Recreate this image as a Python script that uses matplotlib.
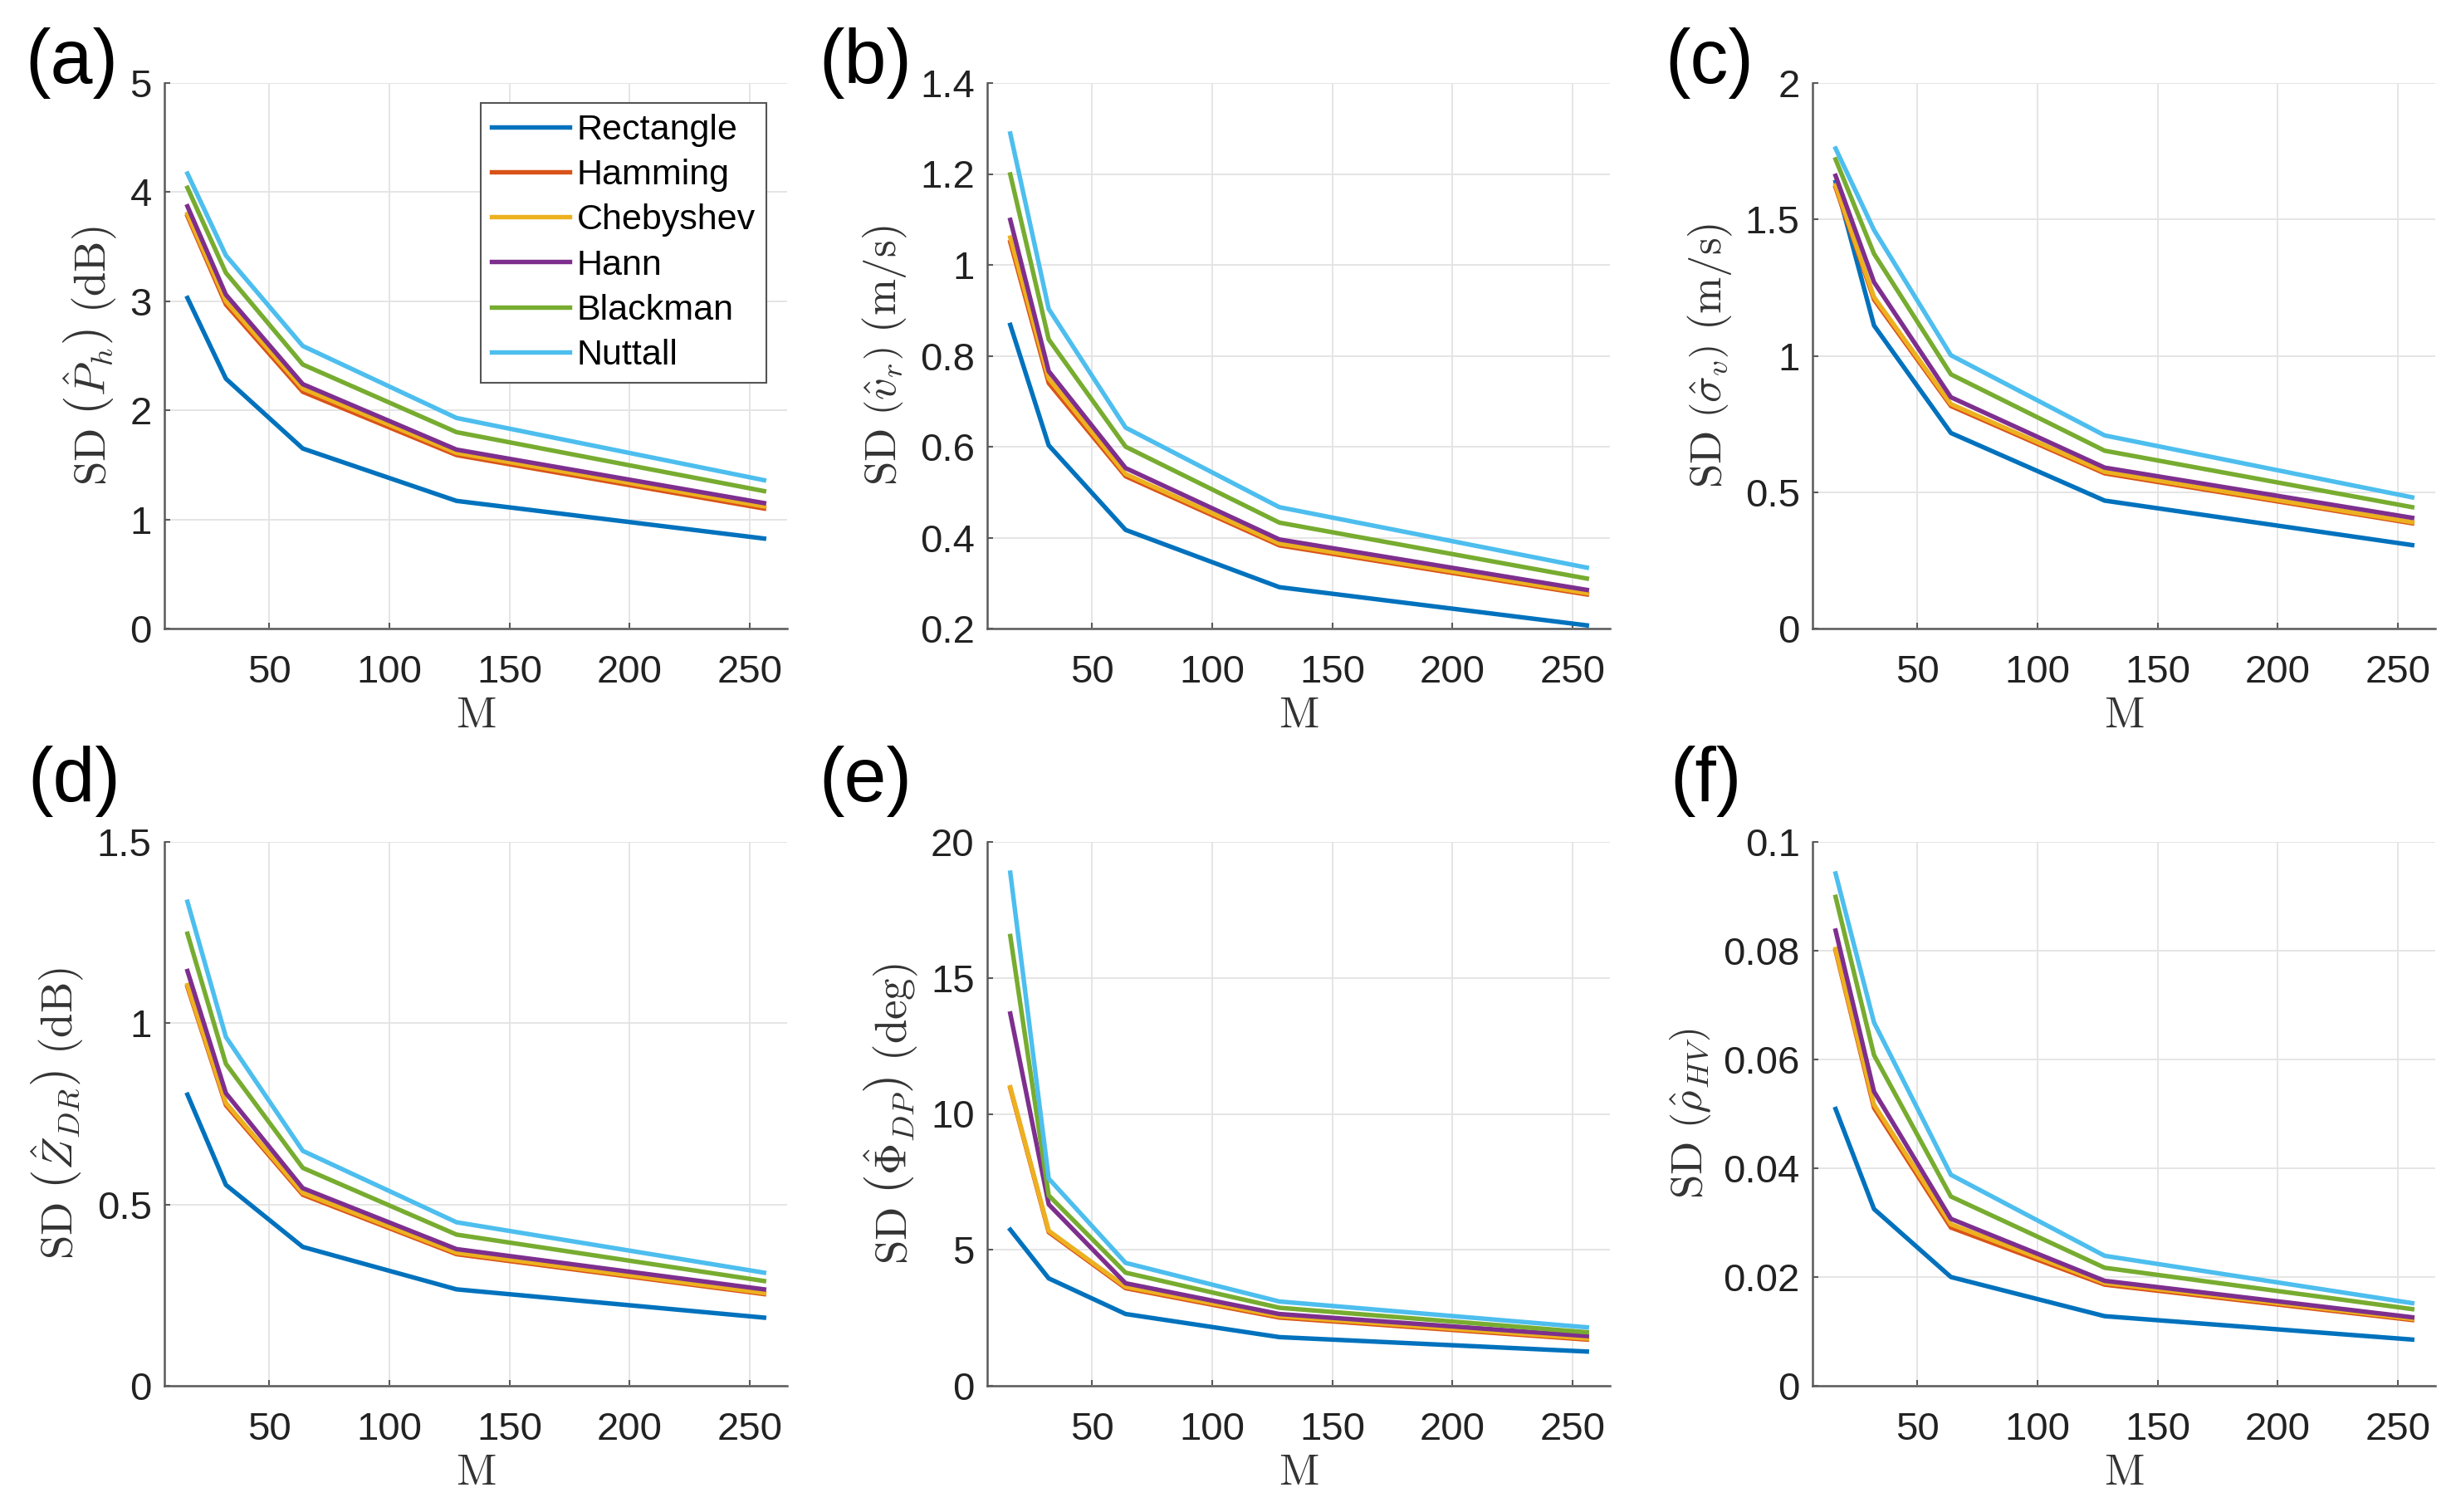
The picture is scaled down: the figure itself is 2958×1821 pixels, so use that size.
import matplotlib
matplotlib.use('Agg')
import matplotlib.pyplot as plt
from matplotlib.ticker import FuncFormatter

# window length
M = [16, 32, 64, 128, 256]

windows = ['Rectangle', 'Hamming', 'Chebyshev', 'Hann', 'Blackman', 'Nuttall']
colors = ['#0072BD', '#D95319', '#EDB120', '#7E2F8E', '#77AC30', '#4DBEEE']

# SD of each estimate, one row per window (same order as windows)
sd_ph = [[3.03, 2.29, 1.65, 1.17, 0.825],
         [3.78, 2.97, 2.17, 1.59, 1.10],
         [3.80, 3.00, 2.20, 1.61, 1.12],
         [3.87, 3.06, 2.24, 1.64, 1.15],
         [4.04, 3.26, 2.42, 1.80, 1.26],
         [4.17, 3.42, 2.59, 1.93, 1.36]]

sd_vr = [[0.868, 0.603, 0.417, 0.291, 0.207],
         [1.050, 0.740, 0.535, 0.383, 0.275],
         [1.060, 0.750, 0.540, 0.387, 0.278],
         [1.099, 0.766, 0.553, 0.396, 0.285],
         [1.199, 0.836, 0.600, 0.433, 0.310],
         [1.289, 0.903, 0.642, 0.467, 0.334]]

sd_sv = [[1.637, 1.111, 0.717, 0.469, 0.306],
         [1.617, 1.206, 0.816, 0.569, 0.386],
         [1.625, 1.215, 0.823, 0.575, 0.390],
         [1.660, 1.270, 0.848, 0.590, 0.406],
         [1.720, 1.374, 0.932, 0.652, 0.445],
         [1.760, 1.461, 1.002, 0.708, 0.481]]

sd_zdr = [[0.803, 0.554, 0.383, 0.266, 0.188],
          [1.100, 0.774, 0.527, 0.363, 0.253],
          [1.105, 0.780, 0.532, 0.367, 0.256],
          [1.144, 0.807, 0.545, 0.377, 0.266],
          [1.247, 0.888, 0.601, 0.417, 0.289],
          [1.335, 0.962, 0.648, 0.451, 0.312]]

sd_phidp = [[5.74, 3.95, 2.64, 1.79, 1.26],
            [10.94, 5.65, 3.59, 2.51, 1.70],
            [10.98, 5.70, 3.64, 2.56, 1.74],
            [13.69, 6.67, 3.77, 2.64, 1.83],
            [16.54, 7.00, 4.16, 2.87, 1.97],
            [18.87, 7.62, 4.52, 3.10, 2.15]]

sd_rho = [[0.0509, 0.0325, 0.0200, 0.0128, 0.0085],
          [0.0800, 0.0511, 0.0291, 0.0186, 0.0121],
          [0.0803, 0.0517, 0.0297, 0.0189, 0.0123],
          [0.0837, 0.0541, 0.0307, 0.0193, 0.0126],
          [0.0899, 0.0608, 0.0348, 0.0217, 0.0141],
          [0.0942, 0.0668, 0.0388, 0.0239, 0.0152]]

ylabels = [r'$\mathrm{SD}\ \left(\hat{P}_h\right)\ (\mathrm{dB})$',
           r'$\mathrm{SD}\ \left(\hat{v}_r\right)\ (\mathrm{m/s})$',
           r'$\mathrm{SD}\ \left(\hat{\sigma}_v\right)\ (\mathrm{m/s})$',
           r'$\mathrm{SD}\ \left(\hat{Z}_{DR}\right)\ (\mathrm{dB})$',
           r'$\mathrm{SD}\ \left(\hat{\Phi}_{DP}\right)\ (\mathrm{deg})$',
           r'$\mathrm{SD}\ \left(\hat{\rho}_{HV}\right)$']
panel_tags = ['(a)', '(b)', '(c)', '(d)', '(e)', '(f)']
ylims = [(0, 5), (0.2, 1.4), (0, 2), (0, 1.5), (0, 20), (0, 0.1)]
ysteps = [1, 0.2, 0.5, 0.5, 5, 0.02]

plt.rcParams['font.family'] = ['Liberation Sans', 'DejaVu Sans']
plt.rcParams['mathtext.fontset'] = 'cm'

W, H = 2958, 1821
fig = plt.figure(figsize=(W / 100, H / 100), dpi=100)

# axes boxes in pixels: left, top, bottom
lefts = [198, 1189, 2183]
rows = [(100, 757), (1014, 1669)]
axw = 750
tag_pos = [(30, 100), (986, 100), (2005, 100), (33, 965), (986, 965), (2011, 965)]

data = [sd_ph, sd_vr, sd_sv, sd_zdr, sd_phidp, sd_rho]
fmt = FuncFormatter(lambda v, p: '%g' % round(v, 6))

for k in range(6):
    r, c = divmod(k, 3)
    top, bot = rows[r]
    ax = fig.add_axes([lefts[c] / W, 1 - bot / H, axw / W, (bot - top) / H])
    for name, col, y in zip(windows, colors, data[k]):
        ax.plot(M, y, color=col, lw=3.9, label=name)
    lo, hi = ylims[k]
    ax.set_ylim(lo, hi)
    n = int(round((hi - lo) / ysteps[k]))
    ax.set_yticks([lo + i * ysteps[k] for i in range(n + 1)])
    ax.set_xlim(6.4, 265.6)
    ax.set_xticks([50, 100, 150, 200, 250])
    ax.yaxis.set_major_formatter(fmt)
    ax.grid(True, color='#e3e3e3', lw=1.3)
    ax.set_axisbelow(True)
    for s in ['top', 'right']:
        ax.spines[s].set_visible(False)
    for s in ['left', 'bottom']:
        ax.spines[s].set_color('#5a5a5a')
        ax.spines[s].set_linewidth(1.8)
    ax.tick_params(direction='in', length=5, width=1.5, color='#5a5a5a',
                   labelsize=34, labelcolor='#222222')
    ax.tick_params(axis='x', pad=22)
    ax.tick_params(axis='y', pad=11)
    ax.set_xlabel(r'$\mathrm{M}$', fontsize=38, color='#333333', labelpad=4)
    ax.set_ylabel(ylabels[k], fontsize=38, color='#333333', labelpad=9)
    tx, ty = tag_pos[k]
    fig.text(tx / W, 1 - ty / H, panel_tags[k], fontsize=66, va='baseline', ha='left')
    if k == 0:
        leg = ax.legend(loc='upper right', bbox_to_anchor=(1 - 25 / axw, 1 - 24 / 657),
                        borderaxespad=0, fontsize=31, fancybox=False, framealpha=1,
                        edgecolor='#555555', handlelength=2.2, handletextpad=0.2,
                        labelspacing=0.33, borderpad=0.3)
        leg.get_frame().set_linewidth(1.5)

fig.savefig('out.png', dpi=100)
